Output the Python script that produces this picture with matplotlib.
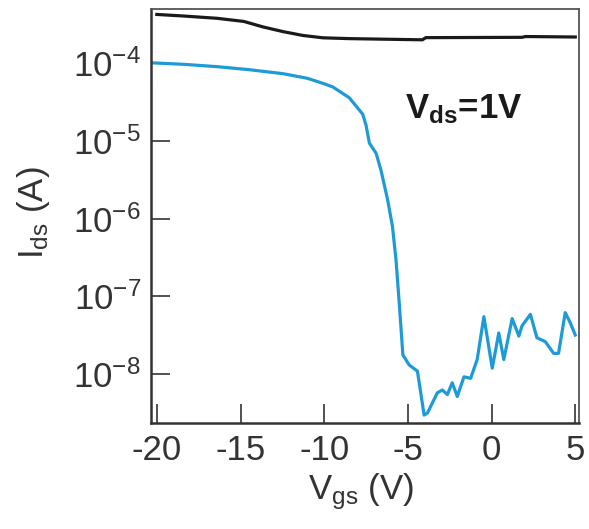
import numpy as np
import matplotlib
matplotlib.use('Agg')
import matplotlib.pyplot as plt
from matplotlib.ticker import LogLocator, NullLocator

plt.rcParams['font.family'] = ['Liberation Sans', 'DejaVu Sans']
plt.rcParams['mathtext.fontset'] = 'custom'
plt.rcParams['mathtext.rm'] = 'Liberation Sans'
plt.rcParams['mathtext.it'] = 'Liberation Sans'
plt.rcParams['mathtext.bf'] = 'Liberation Sans:bold'
plt.rcParams['axes.unicode_minus'] = False

# black curve (upper)
vgs_black = [-20.0, -18.4, -16.4, -14.8, -13.65, -12.46, -11.27, -10.08, -8.5, -4.13, -3.93, 1.82, 2.02, 5.0]
ids_black = [4.17e-4, 3.98e-4, 3.72e-4, 3.39e-4, 2.88e-4, 2.51e-4, 2.24e-4, 2.09e-4, 2.04e-4,
             1.97e-4, 2.10e-4, 2.12e-4, 2.17e-4, 2.14e-4]

# blue transfer curve
vgs_blue = [-20.4, -18.4, -16.4, -14.45, -12.46, -11.0, -10.0, -9.49, -8.5, -7.7, -7.5, -7.3, -6.9,
            -6.61, -6.21, -5.92, -5.71, -5.56, -5.42, -5.3, -4.92, -4.43, -4.03, -3.83, -3.24, -2.94,
            -2.64, -2.35, -2.05, -1.65, -1.25, -0.86, -0.46, 0.04, 0.43, 0.73, 1.23, 1.63, 1.82, 2.32,
            2.71, 3.21, 3.71, 4.0, 4.4, 4.7, 5.0]
ids_blue = [1.00e-4, 9.55e-5, 8.91e-5, 8.13e-5, 7.24e-5, 6.31e-5, 5.37e-5, 4.90e-5, 3.55e-5, 2.19e-5,
            1.58e-5, 9.3e-6, 6.9e-6, 4.2e-6, 1.74e-6, 7.9e-7, 2.95e-7, 1.10e-7, 4.2e-8, 1.78e-8,
            1.32e-8, 1.10e-8, 3.0e-9, 3.2e-9, 5.8e-9, 6.3e-9, 5.5e-9, 7.8e-9, 5.2e-9, 9.3e-9, 8.9e-9,
            1.55e-8, 5.5e-8, 1.20e-8, 3.4e-8, 1.55e-8, 5.2e-8, 3.1e-8, 4.2e-8, 5.9e-8, 2.95e-8,
            2.63e-8, 1.86e-8, 1.86e-8, 6.2e-8, 4.6e-8, 3.2e-8]

xticks = [-20, -15, -10, -5, 0, 5]

fig = plt.figure(figsize=(5.89, 5.29), dpi=100)
ax = fig.add_axes([0.256, 0.201, 0.7275, 0.782])

ax.plot(vgs_black, ids_black, color='#1a1a1a', lw=2.3)
ax.plot(vgs_blue, ids_blue, color='#1e9bd7', lw=2.3)

ax.set_yscale('log')
ax.set_xlim(-20.36, 5.24)
ax.set_ylim(10**-8.62, 10**-3.31)
ax.set_xticks(xticks)
ax.yaxis.set_major_locator(LogLocator(base=10, numticks=10))
ax.yaxis.set_minor_locator(NullLocator())

ax.tick_params(direction='in', length=13.5, width=1.2, labelsize=25, pad=7,
               top=False, right=False, colors='#333333')
ax.tick_params(axis='x', pad=8)

for side in ['left', 'bottom']:
    ax.spines[side].set_linewidth(1.8)
    ax.spines[side].set_color('#333333')
for side in ['top', 'right']:
    ax.spines[side].set_linewidth(1.3)
    ax.spines[side].set_color('#555555')

ax.set_xlabel(r'$\mathregular{V_{gs}}$ (V)', fontsize=25, color='#333333')
ax.xaxis.set_label_coords(0.49, -0.118)
ax.set_ylabel(r'$\mathregular{I_{ds}}$ (A)', fontsize=25, color='#333333')
ax.yaxis.set_label_coords(-0.23, 0.507)

ax.text(0.593, 0.7365, r'$\mathbf{V_{ds}}$=1V', transform=ax.transAxes,
        fontsize=25, fontweight='bold', color='#1a1a1a', va='baseline', ha='left')

fig.savefig('out.png', dpi=100)
